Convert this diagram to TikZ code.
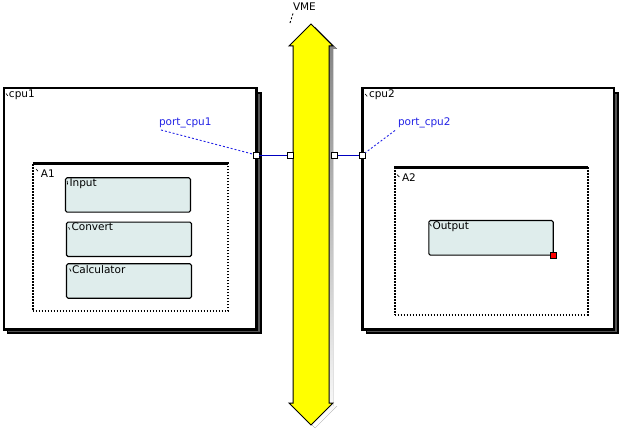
\documentclass[tikz,border=0pt]{standalone}
\usepackage{fontspec}
\setmainfont{DejaVu Sans}
\definecolor{shade}{HTML}{555555}
\definecolor{blockfill}{HTML}{DFEDEC}
\definecolor{portblue}{HTML}{2323E6}
\definecolor{wireblue}{HTML}{0000C0}
\definecolor{busyellow}{HTML}{FFFF00}
\begin{document}
\begin{tikzpicture}[x=1pt,y=-1pt,
  txt/.style={anchor=base west,inner sep=0pt,outer sep=0pt,font=\fontsize{10.5}{12}\selectfont},
  porttxt/.style={txt,text=portblue},
  cpubox/.style={draw=black,line width=2.4pt,fill=white,anchor=north west,inner sep=0pt,outer sep=0pt},
  cpushadow/.style={draw=black,line width=1.6pt,fill=shade},
  partbox/.style={draw=black,line width=2pt,dash pattern=on 1.5pt off 1.5pt,fill=white,anchor=north west,inner sep=0pt,outer sep=0pt},
  blockbox/.style={draw=black,line width=1.1pt,fill=blockfill,rounded corners=1.5pt,anchor=north west,inner sep=0pt,outer sep=0pt,minimum width=125pt,minimum height=34.4pt},
  portbox/.style={draw=black,line width=0.9pt,fill=white,minimum size=6pt,inner sep=0pt,outer sep=0pt},
  wire/.style={draw=wireblue,line width=0.9pt},
  leader/.style={draw=portblue,line width=0.9pt,dash pattern=on 2pt off 2pt},
  tick/.style={draw=black,line width=0.6pt}
]
\useasboundingbox (0,0) rectangle (622,433);

% ---- cpu1 ----
\path[cpushadow] (7.5,93.3) rectangle (260.8,333.1);
\node[cpubox,minimum width=252.6pt,minimum height=241pt] (cpu1) at (3.7,88.3) {};
\node[txt] (cpu1t) at (9,98) {cpu1};
\draw[tick] (6,93.5) -- (7.8,95.8);

% ---- cpu2 ----
\path[cpushadow] (366.5,93.3) rectangle (618.2,333.1);
\node[cpubox,minimum width=251.7pt,minimum height=241pt] (cpu2) at (362.3,88.3) {};
\node[txt] (cpu2t) at (369,98) {cpu2};
\draw[tick] (365.2,94) -- (367.2,96.4);

% ---- A1 ----
\node[partbox,minimum width=195.8pt,minimum height=147.4pt] (A1) at (32.5,163.3) {};
\draw[black,line width=3pt] (A1.north west) -- (A1.north east);
\node[txt] (A1t) at (41,178) {A1};
\draw[tick] (36,169) -- (38,171.2);

% ---- A2 ----
\node[partbox,minimum width=193.5pt,minimum height=147.2pt] (A2) at (394.5,167.3) {};
\draw[black,line width=3pt] (A2.north west) -- (A2.north east);
\node[txt] (A2t) at (402,181.5) {A2};
\draw[tick] (397,174.6) -- (399.4,177);

% ---- blocks ----
\node[blockbox] (inp) at (65.5,177.8) {};
\node[txt] (inpt) at (69.5,187) {Input};
\draw[tick] (67.2,181) -- (67.6,184.5);

\node[blockbox,minimum height=34.3pt] (conv) at (66.5,222.2) {};
\node[txt] (convt) at (71.5,230.5) {Convert};
\draw[tick] (68.6,227.2) -- (69.8,229.6);

\node[blockbox] (calc) at (66.5,263.8) {};
\node[txt] (calct) at (72,273) {Calculator};
\draw[tick] (69.6,268.6) -- (71,271.4);

\node[blockbox,minimum height=34.7pt,minimum width=124.4pt] (outp) at (428.8,220.5) {};
\node[txt] (outpt) at (432.5,229.5) {Output};
\draw[tick] (429.4,223.4) -- (431.4,226.2);
\node[draw=black,line width=0.8pt,fill=red,minimum size=5.6pt,inner sep=0pt] (outport) at (553.5,255.5) {};

% ---- VME bus ----
\fill[shade] (315,27) -- (337,49) -- (333,49) -- (333,406) -- (337,406) -- (315,428) -- (293,406) -- (297,406) -- (297,49) -- (293,49) -- cycle;
\draw[black,line width=1pt,fill=busyellow] (311,24) -- (333,46) -- (329,46) -- (329,403) -- (333,403) -- (311,425) -- (289,403) -- (293,403) -- (293,46) -- (289,46) -- cycle;
\coordinate (busl) at (289.5,24.5);
\node[txt] (vme) at (293,11) {VME};
\draw[black,line width=0.9pt,dash pattern=on 2pt off 2pt] ([yshift=-2.5pt]vme.south west) -- (busl);

% ---- ports ----
\node[portbox] (p1) at (256.3,155) {};
\node[portbox] (b1) at (290,155) {};
\node[portbox] (b2) at (334.5,155) {};
\node[portbox] (p2) at (362.3,155) {};
\draw[wire] (p1) -- (b1);
\draw[wire] (b2) -- (p2);

\node[porttxt] (pl1) at (159,125.5) {port\_cpu1};
\node[porttxt] (pl2) at (398,126) {port\_cpu2};
\draw[leader] ([xshift=2pt,yshift=-2pt]pl1.south west) -- (p1);
\draw[leader] ([xshift=-3pt,yshift=-2pt]pl2.south west) -- (p2);
\end{tikzpicture}
\end{document}
